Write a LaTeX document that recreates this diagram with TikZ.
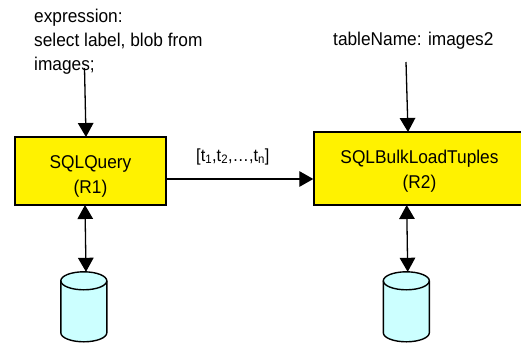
\documentclass[tikz,border=0pt]{standalone}
\usepackage{fontspec}
\setmainfont[FakeStretch=0.935]{Liberation Sans}
\usetikzlibrary{arrows.meta,calc}
\definecolor{dbfill}{HTML}{CCFFFF}
\tikzset{
  x=1pt,y=-1pt,
  proc/.style={draw=black,line width=1.4pt,fill=yellow},
  proctext/.style={align=center,inner sep=0pt,font=\fontsize{18.5}{25}\selectfont},
  txt/.style={align=left,inner sep=0pt,font=\fontsize{18.5}{24.3}\selectfont},
  dbspot/.style={inner sep=0pt,minimum width=46pt,minimum height=70pt},
  dbline/.style={draw=black,line width=1.4pt,fill=dbfill},
  arr/.style={line width=1.3pt,-{Triangle[width=15.5pt,length=14pt]}},
  biarr/.style={line width=1.3pt,{Triangle[width=15.5pt,length=14pt]}-{Triangle[width=15.5pt,length=14pt]}}
}
\newcommand{\dbbody}[1]{%
  \draw[dbline] ($(#1.north west)+(0,9)$) -- ++(0,52)
    arc[start angle=180,end angle=360,x radius=23pt,y radius=9pt] -- ++(0,-52)
    arc[start angle=0,end angle=180,x radius=23pt,y radius=9pt] -- cycle;
  \draw[line width=1.4pt] ($(#1.north west)+(0,9)$)
    arc[start angle=180,end angle=360,x radius=23pt,y radius=9pt];
}
\begin{document}
\begin{tikzpicture}
\useasboundingbox (0,0) rectangle (521,343);
\node[proc,inner sep=0pt,minimum width=151pt,minimum height=68pt] (r1) at (90.5,171) {};
\node[proc,inner sep=0pt,minimum width=211pt,minimum height=73pt] (r2) at (419.5,168.5) {};
\node[proctext] (r1t) at (90.5,176) {SQLQuery\\(R1)};
\node[proctext] (r2t) at (419.5,171) {SQLBulkLoadTuples\\(R2)};
\node[dbspot] (c1) at (84,307) {};
\node[dbspot] (c2) at (406.5,307) {};
\dbbody{c1}
\dbbody{c2}
\node[txt,anchor=north west] (expr) at (34,8.5) {expression:\\select label, blob from\\images;};
\node[txt,anchor=base west] (tn) at (333,45) {tableName: images2};
\node[inner sep=0pt,anchor=base west,font=\fontsize{17.5}{20}\selectfont] (tup) at (196,161) {[t\textsubscript{1},t\textsubscript{2},…,t\textsubscript{n}]};
\coordinate (e1) at (84.5,68);
\coordinate (e2) at (406,62);
\draw[arr] (e1) -- (86,137);
\draw[arr] (e2) -- (408,132);
\draw[arr] (r1.east |- 0,179) -- (r2.west |- 0,179);
\draw[biarr] (85,205) -- ($(c1.north)+(2,0)$);
\draw[biarr] (406.7,205) -- ($(c2.north)+(1.2,0)$);
\end{tikzpicture}
\end{document}
